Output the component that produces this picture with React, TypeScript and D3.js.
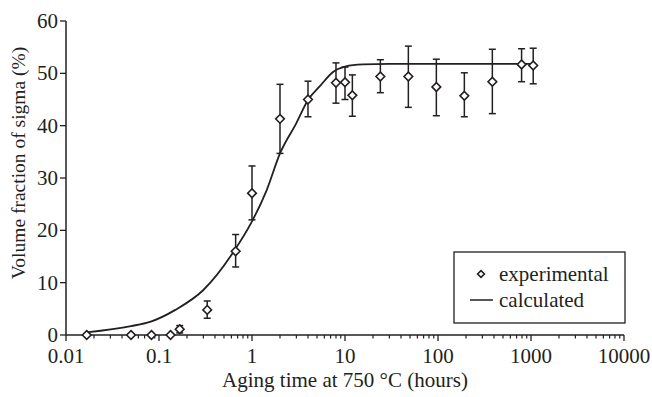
import { useEffect, useRef } from 'react';
import * as d3 from 'd3';

// experimental points (hours, volume %), with error bar bounds
const expHours = [0.0167, 0.05, 0.083, 0.133, 0.167, 0.33, 0.667, 1, 2, 4, 8, 10, 12, 24, 48, 96, 192, 384, 792, 1056];
const expValue = [0, 0, 0, 0, 1.1, 4.8, 16.0, 27.1, 41.3, 45.0, 48.2, 48.3, 45.8, 49.4, 49.4, 47.4, 45.7, 48.4, 51.7, 51.5];
const expLow = [null, null, null, null, 0.4, 3.2, 13.0, 22.0, 34.7, 41.7, 44.3, 45.0, 41.8, 46.3, 43.5, 41.9, 41.7, 42.3, 48.4, 48.0];
const expHigh = [null, null, null, null, 1.8, 6.5, 19.2, 32.3, 47.9, 48.5, 52.0, 51.2, 49.7, 52.6, 55.2, 52.7, 50.1, 54.6, 54.7, 54.8];

// calculated curve
const calcHours = [0.0167, 0.05, 0.08, 0.15, 0.3, 0.65, 1, 1.44, 2, 3, 4, 5.4, 7.5, 10, 15.6, 30, 100, 1000];
const calcValue = [0.5, 1.7, 2.5, 4.8, 8.6, 16.2, 21.7, 27.7, 34.7, 40.5, 44.9, 47.6, 50.3, 51.3, 51.7, 51.8, 51.8, 51.8];

const yTicks = [0, 10, 20, 30, 40, 50, 60];
const xTicks = [0.01, 0.1, 1, 10, 100, 1000, 10000];
const xTickLabels = ['0.01', '0.1', '1', '10', '100', '1000', '10000'];

const W = 652;
const H = 397;
const FONT = '"Liberation Serif", "Times New Roman", serif';
const FS = '21px';
const INK = '#231f20';

export default function App() {
  const ref = useRef<SVGSVGElement>(null);

  useEffect(() => {
    if (!ref.current) return;
    const svg = d3.select(ref.current);
    svg.selectAll('*').remove();

    const x = d3.scaleLog().domain([0.01, 10000]).range([66, 624]);
    const y = d3.scaleLinear().domain([0, 60]).range([335, 21]);

    // y axis
    const yAxis = svg.append('g').attr('transform', `translate(${x(0.01)},0)`);
    yAxis.append('line').attr('y1', y(0)).attr('y2', y(60)).attr('stroke', INK).attr('stroke-width', 1.5);
    yTicks.forEach((t) => {
      yAxis.append('line').attr('x1', -6).attr('x2', 0).attr('y1', y(t)).attr('y2', y(t)).attr('stroke', INK).attr('stroke-width', 1.3);
      yAxis
        .append('text')
        .attr('x', -8)
        .attr('y', y(t) + 7)
        .attr('text-anchor', 'end')
        .attr('font-size', FS)
        .attr('font-family', FONT)
        .attr('fill', INK)
        .text(String(t));
    });

    // x axis with minor log ticks
    const xAxis = svg.append('g').attr('transform', `translate(0,${y(0)})`);
    xAxis.append('line').attr('x1', x(0.01)).attr('x2', x(10000)).attr('stroke', INK).attr('stroke-width', 1.5);
    const minor: number[] = [];
    for (let e = -2; e < 4; e++) for (let m = 2; m <= 9; m++) minor.push(m * Math.pow(10, e));
    minor.forEach((t) => {
      xAxis.append('line').attr('x1', x(t)).attr('x2', x(t)).attr('y1', 0).attr('y2', 3.5).attr('stroke', INK).attr('stroke-width', 1.2);
    });
    xTicks.forEach((t, i) => {
      xAxis.append('line').attr('x1', x(t)).attr('x2', x(t)).attr('y1', 0).attr('y2', 6).attr('stroke', INK).attr('stroke-width', 1.3);
      xAxis
        .append('text')
        .attr('x', x(t))
        .attr('y', 28)
        .attr('text-anchor', 'middle')
        .attr('font-size', FS)
        .attr('font-family', FONT)
        .attr('fill', INK)
        .text(xTickLabels[i]);
    });

    // axis titles
    svg
      .append('text')
      .attr('x', (x(0.01) + x(10000)) / 2)
      .attr('y', 387)
      .attr('text-anchor', 'middle')
      .attr('font-size', FS)
      .attr('font-family', FONT)
      .attr('fill', INK)
      .text('Aging time at 750 °C (hours)');
    svg
      .append('text')
      .attr('transform', `translate(25,163) rotate(-90)`)
      .attr('text-anchor', 'middle')
      .attr('font-size', '19.5px')
      .attr('font-family', FONT)
      .attr('fill', INK)
      .text('Volume fraction of sigma (%)');

    // calculated curve
    const line = d3
      .line<number>()
      .x((_, i) => x(calcHours[i]))
      .y((d) => y(d))
      .curve(d3.curveMonotoneX);
    svg.append('path').datum(calcValue).attr('fill', 'none').attr('stroke', INK).attr('stroke-width', 1.8).attr('d', line);

    // error bars
    const bars = svg.append('g');
    expHours.forEach((h, i) => {
      const lo = expLow[i];
      const hi = expHigh[i];
      if (lo == null || hi == null) return;
      const cx = x(h);
      bars.append('line').attr('x1', cx).attr('x2', cx).attr('y1', y(lo)).attr('y2', y(hi)).attr('stroke', INK).attr('stroke-width', 1.5);
      [lo, hi].forEach((v) => {
        bars.append('line').attr('x1', cx - 3.5).attr('x2', cx + 3.5).attr('y1', y(v)).attr('y2', y(v)).attr('stroke', INK).attr('stroke-width', 1.5);
      });
    });

    // diamonds
    const diamond = d3.symbol().type(d3.symbolDiamond2).size(48);
    svg
      .append('g')
      .selectAll('path')
      .data(expValue)
      .join('path')
      .attr('transform', (d, i) => `translate(${x(expHours[i])},${y(d)})`)
      .attr('d', diamond)
      .attr('fill', 'white')
      .attr('stroke', INK)
      .attr('stroke-width', 1.6);

    // legend
    const legend = svg.append('g').attr('transform', 'translate(454,252)');
    legend.append('rect').attr('width', 171).attr('height', 71).attr('fill', 'white').attr('stroke', INK).attr('stroke-width', 1.3);
    legend
      .append('path')
      .attr('transform', 'translate(27,22)')
      .attr('d', d3.symbol().type(d3.symbolDiamond2).size(30))
      .attr('fill', 'white')
      .attr('stroke', INK)
      .attr('stroke-width', 1.6);
    legend.append('line').attr('x1', 16).attr('x2', 39).attr('y1', 48).attr('y2', 48).attr('stroke', INK).attr('stroke-width', 1.5);
    [
      ['experimental', 29],
      ['calculated', 55],
    ].forEach(([label, yy]) => {
      legend
        .append('text')
        .attr('x', 45)
        .attr('y', yy as number)
        .attr('font-size', FS)
        .attr('font-family', FONT)
        .attr('fill', INK)
        .text(label as string);
    });
  }, []);

  return <svg ref={ref} width={W} height={H} style={{ position: 'absolute', left: 0, top: 0, background: 'white' }} />;
}
